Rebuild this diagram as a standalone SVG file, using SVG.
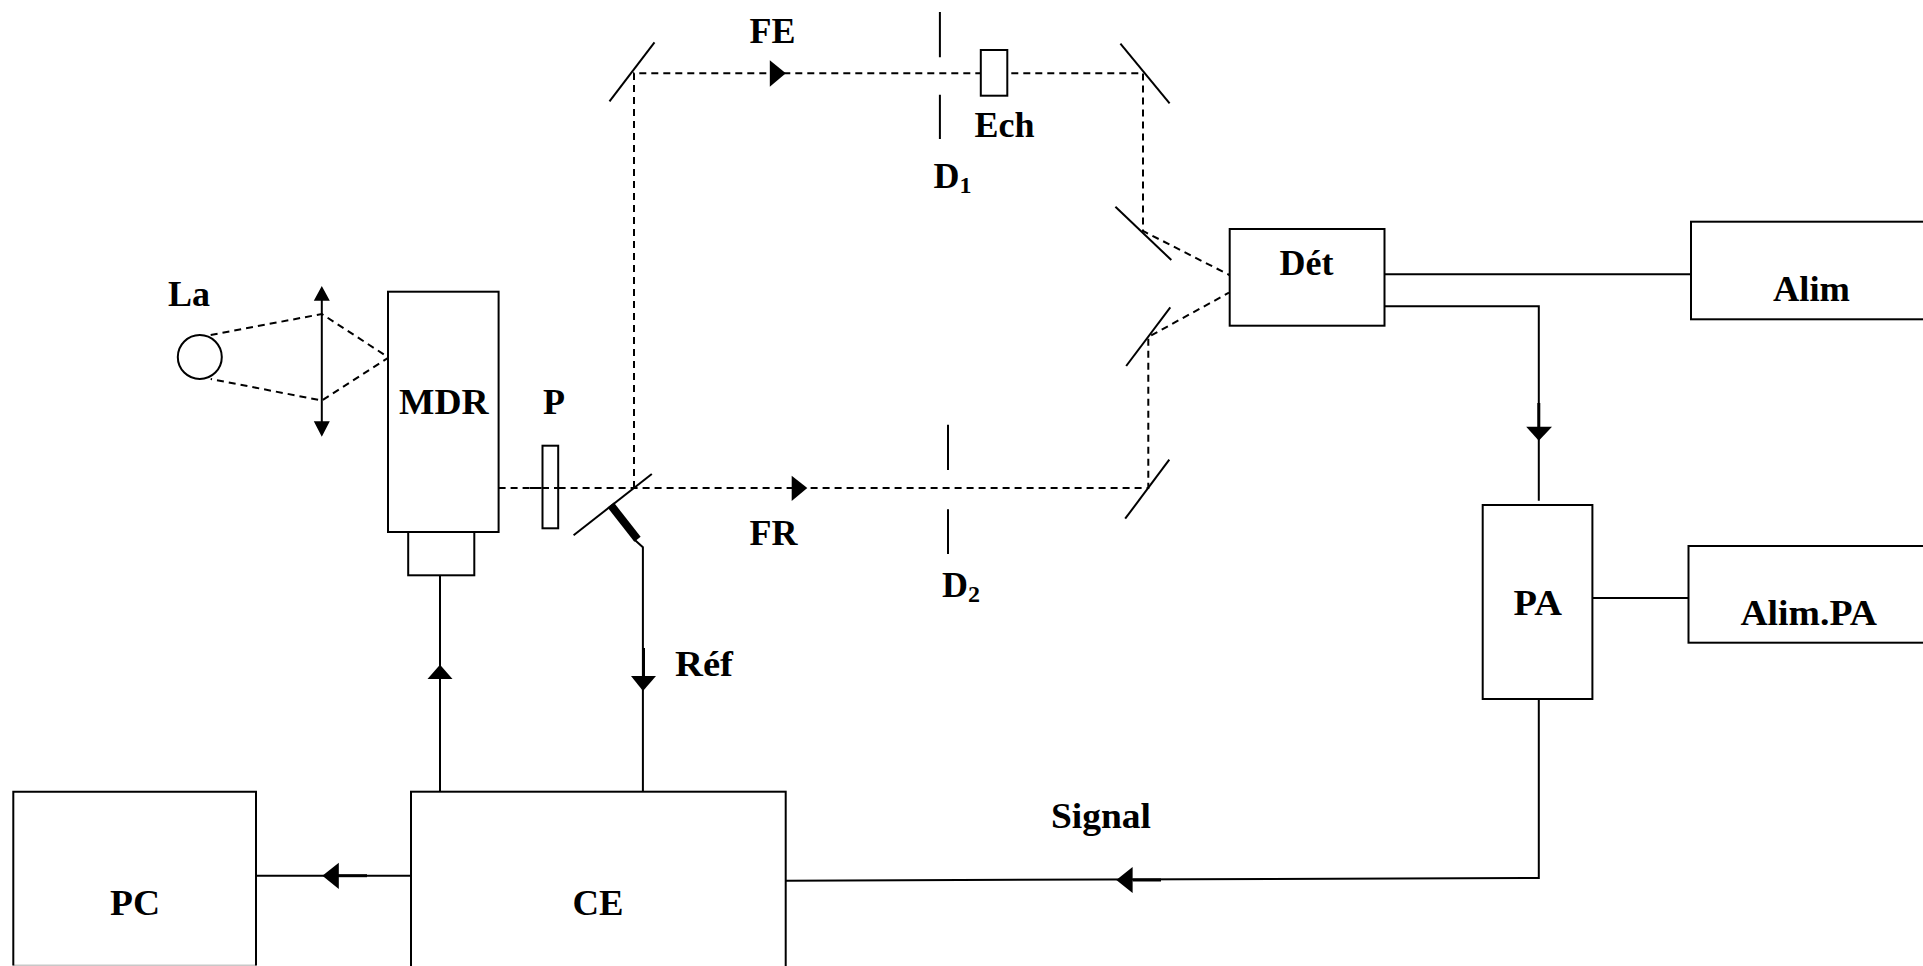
<svg xmlns="http://www.w3.org/2000/svg" width="1923" height="966" viewBox="0 0 1923 966">
<style>
.s{fill:none;stroke:#000;stroke-width:2}
.t{fill:none;stroke:#000;stroke-width:3}
.w{fill:none;stroke:#000;stroke-width:8}
.b{fill:#fff;stroke:#000;stroke-width:2}
.d{fill:none;stroke:#000;stroke-width:2;stroke-dasharray:7 5}
.a{fill:#000;stroke:none}
text{font-family:"Liberation Serif","Times New Roman",serif;font-weight:700;font-size:36px;fill:#000}
.sub{font-size:24px}
</style>
<rect width="1923" height="966" fill="#fff"/>
<g id="connectors">
<path class="d" d="M498.600 488H1148.300V337L1229 292.700"/>
<path class="d" d="M634 488V73.300H1143V231L1229.400 275"/>
<path class="d" d="M210.700 335L321.800 314L388.600 357.500L321.800 400.500L210.700 379"/>
<path class="s" d="M321.800 300V422"/>
<path class="a" d="M321.800 286L329.800 300.700H313.800ZM321.800 436.700L329.800 421.300H313.800Z"/>
<path class="s" d="M440 575V794"/>
<path class="a" d="M440 664.700L452.500 679H427.500Z"/>
<path class="s" d="M634 539.300L642.900 547.300V792"/>
<path class="t" d="M643.500 648V676"/>
<path class="a" d="M643 691L656 676H631Z"/>
<path class="w" d="M610.700 505L637.500 539.300"/>
<path class="s" d="M1384.500 274.300H1691"/>
<path class="s" d="M1384.500 306.300H1538.800V500.700"/>
<path class="t" d="M1538.800 403V427"/>
<path class="a" d="M1538.800 440.700L1552 426.700H1526.200Z"/>
<path class="s" d="M1592.400 598H1688.500"/>
<path class="s" d="M1538.800 699V878L785.700 880.700"/>
<path class="t" d="M1132.600 880H1161"/>
<path class="a" d="M1116.300 880L1132.600 867V893Z"/>
<path class="s" d="M256 875.700H411"/>
<path class="t" d="M338 875.700H367"/>
<path class="a" d="M322.400 875.700L338.800 862.700V889Z"/>
<path class="a" d="M785.800 73.300L769.800 60.300V86.700Z"/>
<path class="a" d="M807.300 488L791.700 475.700V501Z"/>
</g>
<g id="optics">
<path class="s" d="M609.500 101.300L654.500 42.300"/>
<path class="s" d="M1120.400 43.700L1169.600 103.300"/>
<path class="s" d="M1115.400 206.700L1171.300 260"/>
<path class="s" d="M1170.300 307.300L1126.200 366"/>
<path class="s" d="M1169.300 459.700L1125.200 518.700"/>
<path class="s" d="M573.600 535.300L651.800 474"/>
<path class="s" d="M939.900 12V57.300M939.900 94.700V139"/>
<path class="s" d="M948 424.700V470M948 509.300V554"/>
</g>
<g id="La"><circle class="b" cx="199.800" cy="357" r="22"/><text x="168" y="305.700">La</text></g>
<g id="MDR"><rect class="b" x="388" y="291.700" width="110.600" height="240.300"/><rect class="b" x="408.200" y="532" width="66.100" height="43.300"/><text x="399" y="414.300" textLength="89.600" lengthAdjust="spacingAndGlyphs">MDR</text></g>
<g id="P"><rect class="b" x="542.500" y="445.700" width="15.700" height="82.600"/><path class="d" d="M530 488H558"/><text x="543" y="414">P</text></g>
<g id="Ech"><rect class="b" x="980.800" y="50" width="26.500" height="45.700"/><text x="974.400" y="136.700">Ech</text></g>
<g id="Det"><rect class="b" x="1229.700" y="229" width="154.800" height="96.700"/><text x="1279.500" y="275">Dét</text></g>
<g id="Alim"><rect class="b" x="1691" y="221.700" width="240" height="97.600"/><text x="1773" y="300.700" textLength="77" lengthAdjust="spacingAndGlyphs">Alim</text></g>
<g id="PA"><rect class="b" x="1482.700" y="505" width="109.700" height="194"/><text x="1513.600" y="615" textLength="48.400" lengthAdjust="spacingAndGlyphs">PA</text></g>
<g id="AlimPA"><rect class="b" x="1688.500" y="546" width="240" height="96.700"/><text x="1740.400" y="624.700" textLength="136.500" lengthAdjust="spacingAndGlyphs">Alim.PA</text></g>
<g id="PC"><rect x="13.300" y="791.700" width="242.700" height="174" fill="#fff"/><path d="M13.300 965.500H256" fill="none" stroke="#c8c8c8" stroke-width="2"/><path class="s" d="M13.300 965.500V791.700H256V965.500"/><text x="110" y="915" textLength="50" lengthAdjust="spacingAndGlyphs">PC</text></g>
<g id="CE"><rect class="b" x="411" y="791.700" width="374.700" height="180"/><text x="572.500" y="915" textLength="51" lengthAdjust="spacingAndGlyphs">CE</text></g>
<g id="labels">
<text x="749.600" y="42.700">FE</text>
<text x="749.500" y="544.500">FR</text>
<text x="933.500" y="188">D<tspan class="sub" dy="5">1</tspan></text>
<text x="942" y="597">D<tspan class="sub" dy="5">2</tspan></text>
<text x="675" y="675.500" textLength="58" lengthAdjust="spacingAndGlyphs">Réf</text>
<text x="1051" y="828" textLength="100" lengthAdjust="spacingAndGlyphs">Signal</text>
</g>
</svg>
